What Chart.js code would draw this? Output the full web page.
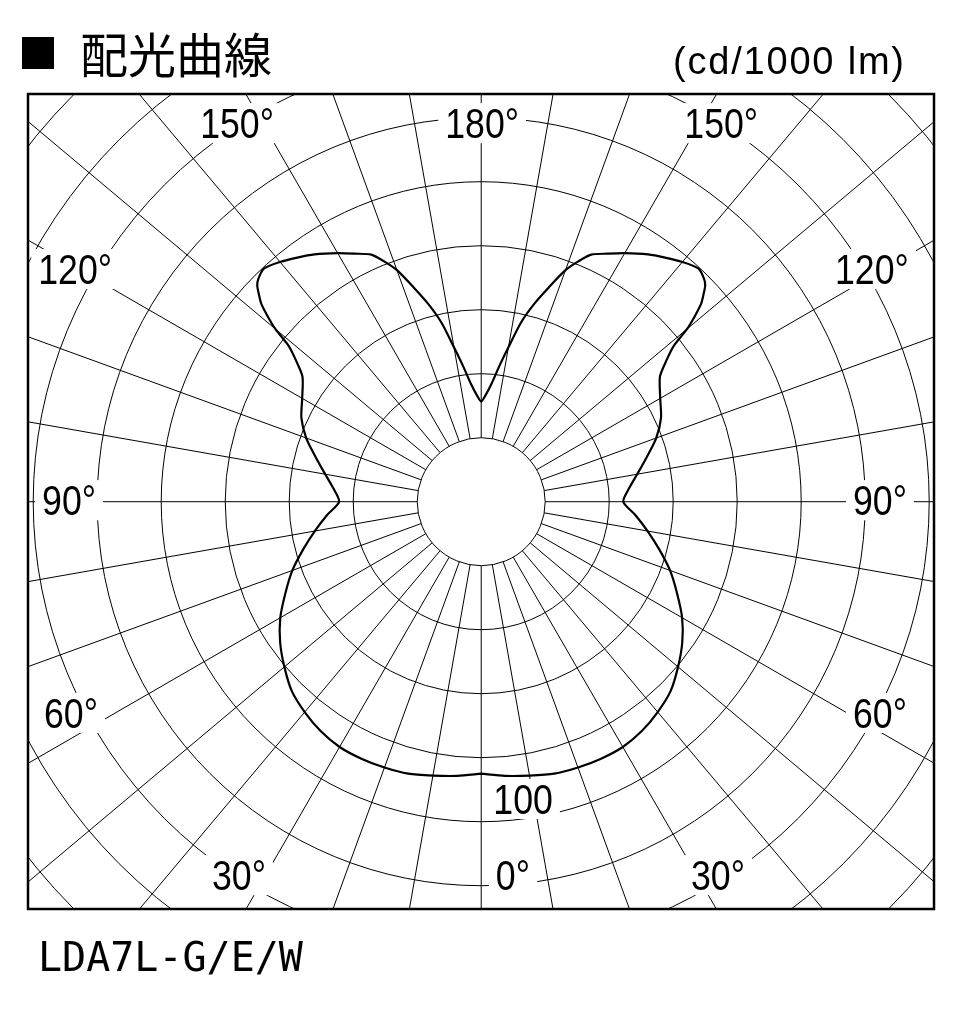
<!DOCTYPE html>
<html lang="ja">
<head>
<meta charset="utf-8">
<title>配光曲線</title>
<script src="https://cdn.jsdelivr.net/npm/chart.js@4/dist/chart.umd.min.js"></script>
<style>
  html, body { margin: 0; padding: 0; background: #fff; }
  #wrap { position: relative; width: 953px; height: 1028px; overflow: hidden; }
  #chart { position: absolute; left: 0; top: 0; }
  .txt { position: absolute; white-space: nowrap; line-height: 1; color: #000; }
  #sq { left: 18px; top: 22px; font: 40px "Noto Sans CJK JP"; }
  #title { left: 80px; top: 17px; font: 48px "Noto Sans CJK JP"; }
  #unit { left: 673px; top: 40px; font: 38px "Liberation Sans"; letter-spacing: 1.8px; }
  #model { left: 38px; top: 934px; font: 40px "DejaVu Sans Mono"; }
</style>
</head>
<body>
<div id="wrap">
  <canvas id="chart" width="953" height="1028"></canvas>
  <div class="txt" id="sq">■</div>
  <div class="txt" id="title">配光曲線</div>
  <div class="txt" id="unit">(cd/1000 lm)</div>
  <div class="txt" id="model">LDA7L-G/E/W</div>
</div>
<script>
// luminous intensity (cd/1000 lm) vs angle from nadir, right half; left half is mirrored
const anglesDeg = [0, 5, 10, 15, 20, 25, 30, 35, 40, 45, 50, 55, 60, 65, 70, 75, 80, 85, 90,
  95, 100, 105, 110, 115, 120, 125, 127.5, 129, 130, 131, 132, 133, 134, 135, 137, 140,
  143, 146, 150, 153, 156, 158, 160, 162.5, 165, 167.5, 170, 172.5, 175, 177.5, 180];
const candela = [85, 86, 86.9, 88, 88.4, 88.6, 88.5, 87.5, 85.8, 83.7, 80.3, 76.7, 72.5, 67.5, 62.8, 57.6, 52.8, 48.4, 44.4,
  46.3, 49.5, 53.5, 58.2, 62, 64.6, 68.2, 73.2, 77.5, 84, 88.5, 92.5, 95, 97.3, 98.5, 99.6, 97.8,
  95.5, 93.2, 89.7, 87, 84.5, 81, 77, 70.2, 64, 57.3, 49, 42.5, 37, 33.5, 31.3];

// grid
const ringValues = [20, 40, 60, 80, 100, 120, 140, 160, 180];
const spokeAngles = Array.from({ length: 36 }, (_, i) => i * 10);
const spokeEnd = 220;

// labels drawn on the plot
const labelTexts = ['180°', '150°', '150°', '120°', '120°', '90°', '90°', '60°', '60°', '30°', '30°', '0°', '100'];
// label centres in chart units (x, y)
const labelAnchors = [
  [0.3, 118.3], [-76.3, 118.3], [75, 118.3],
  [-126.9, 72.7], [122.1, 72.7],
  [-128.8, 0.5], [124.6, 0.5],
  [-128.2, -66], [124.6, -66],
  [-75.7, -116.7], [74, -116.7],
  [9.9, -116.7], [13.1, -92.9]
];

function toXY(deg, v, side) {
  const t = deg * Math.PI / 180;
  return { x: side * v * Math.sin(t), y: -v * Math.cos(t) };
}

const curve = [];
anglesDeg.forEach((a, i) => curve.push(toXY(a, candela[i], 1)));
for (let i = anglesDeg.length - 2; i >= 0; i--) curve.push(toXY(anglesDeg[i], candela[i], -1));

const polarGrid = {
  id: 'polarGrid',
  beforeDatasetsDraw(chart) {
    const { ctx, chartArea: a, scales: { x, y } } = chart;
    const cx = x.getPixelForValue(0), cy = y.getPixelForValue(0);
    const kx = x.getPixelForValue(1) - cx, ky = cy - y.getPixelForValue(1);
    ctx.save();
    ctx.beginPath();
    ctx.rect(a.left, a.top, a.right - a.left, a.bottom - a.top);
    ctx.clip();
    ctx.strokeStyle = '#000';
    ctx.lineWidth = 1;
    ringValues.forEach(r => {
      ctx.beginPath();
      ctx.ellipse(cx, cy, r * kx, r * ky, 0, 0, Math.PI * 2);
      ctx.stroke();
    });
    spokeAngles.forEach(d => {
      const p0 = toXY(d, ringValues[0], 1), p1 = toXY(d, spokeEnd, 1);
      ctx.beginPath();
      ctx.moveTo(x.getPixelForValue(p0.x), y.getPixelForValue(p0.y));
      ctx.lineTo(x.getPixelForValue(p1.x), y.getPixelForValue(p1.y));
      ctx.stroke();
    });
    // labels with white boxes
    const size = 42, sx = 0.85;
    ctx.font = size + 'px "Liberation Sans", Arial, sans-serif';
    ctx.textAlign = 'center';
    ctx.textBaseline = 'alphabetic';
    labelTexts.forEach((t, i) => {
      const px = x.getPixelForValue(labelAnchors[i][0]);
      const py = y.getPixelForValue(labelAnchors[i][1]);
      const w = ctx.measureText(t).width * sx;
      ctx.fillStyle = '#fff';
      ctx.fillRect(px - w / 2 - 7, py - 20, w + 14, 40);
      ctx.fillStyle = '#000';
      ctx.save();
      ctx.translate(px, py + size * 0.358);
      ctx.scale(sx, 1);
      ctx.fillText(t, 0, 0);
      ctx.restore();
    });
    ctx.restore();
  },
  afterDatasetsDraw(chart) {
    const { ctx, chartArea: a } = chart;
    ctx.save();
    ctx.strokeStyle = '#000';
    ctx.lineWidth = 2.5;
    ctx.strokeRect(a.left, a.top, a.right - a.left, a.bottom - a.top);
    ctx.restore();
  }
};

new Chart(document.getElementById('chart'), {
  type: 'scatter',
  data: {
    datasets: [{
      data: curve,
      showLine: true,
      borderColor: '#000',
      borderWidth: 2.2,
      pointRadius: 0,
      tension: 0.25,
      fill: false
    }]
  },
  options: {
    responsive: false,
    animation: false,
    layout: { padding: { left: 28, right: 19, top: 94, bottom: 119 } },
    plugins: { legend: { display: false }, tooltip: { enabled: false } },
    scales: {
      x: { type: 'linear', display: false, min: -141.63, max: 141.5 },
      y: { type: 'linear', display: false, min: -127.28, max: 127.41 }
    }
  },
  plugins: [polarGrid]
});
</script>
</body>
</html>
